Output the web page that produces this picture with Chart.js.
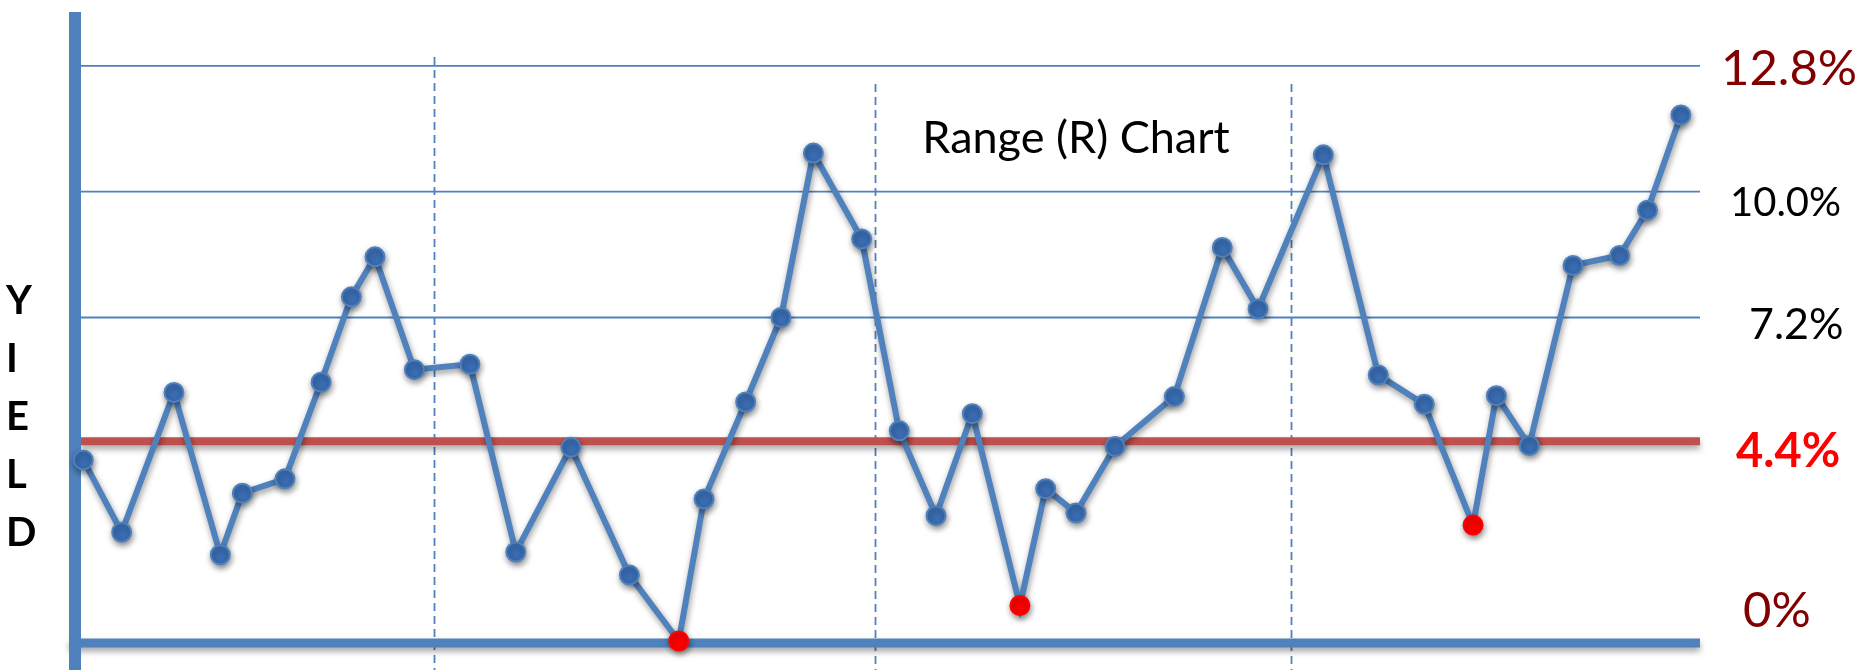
<!DOCTYPE html>
<html>
<head>
<meta charset="utf-8">
<title>Range (R) Chart</title>
<script src="https://cdn.jsdelivr.net/npm/chart.js@4.4.1/dist/chart.umd.min.js"></script>
<style>
  html, body { margin: 0; padding: 0; background: #ffffff; }
  #wrap { width: 1874px; height: 670px; position: relative; }
</style>
</head>
<body>
<div id="wrap"><canvas id="rchart"></canvas></div>
<script>
// ---- chart data ----
const chartTitle = 'Range (R) Chart';
const axisTitle = 'YIELD';

// sample position along the run (0-100)
const sampleX = [
  0.20, 2.57, 5.80, 8.66, 10.02, 12.65, 14.88, 16.75, 18.21, 20.64,
  24.07, 26.90, 30.30, 33.91, 36.96, 38.52, 41.09, 43.27, 45.27, 48.25,
  50.57, 52.84, 55.08, 58.02, 59.61, 61.48, 63.89, 67.55, 70.51, 72.72,
  76.75, 80.14, 82.98, 85.99, 87.43, 89.46, 92.16, 95.04, 96.76, 98.82
];

// range of yield per sample, %
const rangeValues = [
  4.03, 2.42, 5.53, 1.92, 3.29, 3.61, 5.76, 7.66, 8.55, 6.04,
  6.16, 1.98, 4.31, 1.47, 0.00, 3.16, 5.32, 7.20, 10.86, 8.95,
  4.68, 2.79, 5.06, 0.79, 3.39, 2.85, 4.33, 5.44, 8.76, 7.39,
  10.82, 5.92, 5.27, 2.58, 5.46, 4.35, 8.36, 8.58, 9.59, 11.71
];

// samples marked in red (lowest range of each period)
const flaggedPoints = [14, 23, 33];

// reference levels on the right-hand scale
const levelValues = [0, 4.4, 7.2, 10.0, 12.8];
const levelLabels = ['0%', '4.4%', '7.2%', '10.0%', '12.8%'];

// boundaries between periods
const periodBreaks = [21.83, 49.09, 74.75];

// ---- styling ----
const BLUE = '#4f81bd';
const RED_LINE = '#c0504d';
const FONT = 'Lato, "Open Sans", sans-serif';

// per-level label look: [font, colour, x offset from plot right, baseline offset]
const levelLabelStyle = [
  ['49px ' + FONT, '#800000', 43, -14],
  ['bold 47px ' + FONT, '#ff0000', 36, 24],
  ['43px ' + FONT, '#000000', 49, 21],
  ['40px ' + FONT, '#000000', 30, 24],
  ['49px ' + FONT, '#800000', 21, 19]
];
// top of each period divider, in value units
const breakTops = [13.0, 12.4, 12.4];

const decorations = {
  id: 'decorations',
  beforeDatasetsDraw(chart) {
    const { ctx, chartArea: a, scales: { x, y } } = chart;
    const H = chart.height;
    ctx.save();

    // thin level lines
    ctx.strokeStyle = BLUE;
    ctx.lineWidth = 1.8;
    levelValues.forEach((v, i) => {
      if (i < 2) return;
      const py = y.getPixelForValue(v);
      ctx.beginPath();
      ctx.moveTo(a.left, py);
      ctx.lineTo(a.right, py);
      ctx.stroke();
    });

    // period dividers
    ctx.setLineDash([8, 5]);
    ctx.lineWidth = 1.8;
    ctx.strokeStyle = BLUE;
    periodBreaks.forEach((b, i) => {
      const px = Math.round(x.getPixelForValue(b)) + 0.5;
      ctx.beginPath();
      ctx.moveTo(px, y.getPixelForValue(breakTops[i]));
      ctx.lineTo(px, H);
      ctx.stroke();
    });
    ctx.setLineDash([]);

    // centre line and bottom axis with a soft shadow
    ctx.save();
    ctx.shadowColor = 'rgba(0,0,0,0.35)';
    ctx.shadowBlur = 6;
    ctx.shadowOffsetY = 4;
    const pc = y.getPixelForValue(levelValues[1]) - 2;
    ctx.strokeStyle = RED_LINE;
    ctx.lineWidth = 8;
    ctx.beginPath();
    ctx.moveTo(a.left, pc);
    ctx.lineTo(a.right, pc);
    ctx.stroke();

    const p0 = y.getPixelForValue(levelValues[0]) + 2;
    ctx.strokeStyle = BLUE;
    ctx.lineWidth = 9;
    ctx.beginPath();
    ctx.moveTo(a.left - 11, p0);
    ctx.lineTo(a.right, p0);
    ctx.stroke();
    ctx.restore();

    // vertical axis
    ctx.fillStyle = BLUE;
    ctx.fillRect(a.left - 11, a.top, 12, H - a.top);

    // level labels
    ctx.textAlign = 'left';
    ctx.textBaseline = 'alphabetic';
    levelLabels.forEach((t, i) => {
      const [font, color, dx, dy] = levelLabelStyle[i];
      ctx.font = font;
      ctx.fillStyle = color;
      ctx.fillText(t, a.right + dx, y.getPixelForValue(levelValues[i]) + dy);
    });

    // chart title
    ctx.font = '45px ' + FONT;
    ctx.fillStyle = '#000000';
    ctx.textAlign = 'center';
    ctx.fillText(chartTitle, 1076, 153);

    // stacked axis title
    ctx.font = 'bold 40px ' + FONT;
    ctx.textAlign = 'left';
    axisTitle.split('').forEach((ch, i) => {
      ctx.fillText(ch, 6, 314 + i * 58);
    });

    ctx.restore();
  },
  beforeDatasetDraw(chart) {
    const ctx = chart.ctx;
    ctx.save();
    ctx.shadowColor = 'rgba(0,0,0,0.42)';
    ctx.shadowBlur = 6;
    ctx.shadowOffsetX = 1;
    ctx.shadowOffsetY = 3;
  },
  afterDatasetDraw(chart) {
    chart.ctx.restore();
  }
};

const isFlagged = (c) => flaggedPoints.includes(c.dataIndex);

new Chart(document.getElementById('rchart'), {
  type: 'line',
  data: {
    datasets: [{
      label: 'Range',
      data: sampleX.map((sx, i) => ({ x: sx, y: rangeValues[i] })),
      borderColor: BLUE,
      borderWidth: 6,
      tension: 0,
      clip: false,
      pointRadius: (c) => isFlagged(c) ? 9.5 : 9.5,
      pointHoverRadius: (c) => isFlagged(c) ? 9.5 : 9.5,
      pointBackgroundColor: (c) => isFlagged(c) ? '#ff0000' : '#3a6db3',
      pointBorderColor: (c) => isFlagged(c) ? '#ff0000' : BLUE,
      pointBorderWidth: 2
    }]
  },
  options: {
    responsive: true,
    maintainAspectRatio: false,
    animation: false,
    layout: { padding: { left: 80, right: 174, top: 12, bottom: 29 } },
    scales: {
      x: { type: 'linear', min: 0, max: 100, display: false },
      y: { type: 'linear', min: 0, max: 14, display: false }
    },
    plugins: {
      legend: { display: false },
      tooltip: { enabled: false },
      title: { display: false }
    }
  },
  plugins: [decorations]
});
</script>
</body>
</html>
